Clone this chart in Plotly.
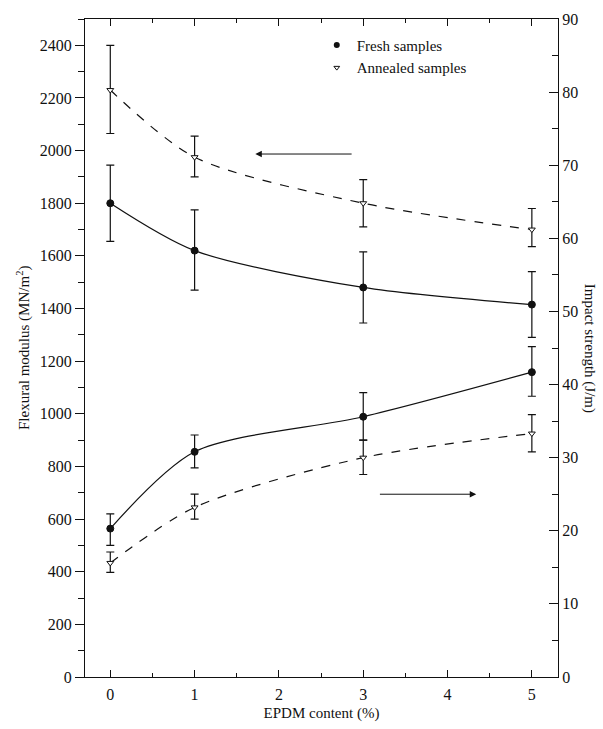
import plotly.graph_objects as go

# EPDM content (%)
epdm = [0, 1, 3, 5]

# Flexural modulus (MN/m^2), left axis
flex_fresh = [1800, 1620, 1480, 1415]
flex_fresh_hi = [145, 155, 135, 125]
flex_fresh_lo = [145, 150, 135, 125]
flex_annealed = [2230, 1975, 1800, 1700]
flex_annealed_hi = [170, 80, 90, 80]
flex_annealed_lo = [165, 75, 90, 65]

# Impact strength (J/m), right axis
imp_fresh = [20.3, 30.8, 35.6, 41.7]
imp_fresh_hi = [2.0, 2.3, 3.3, 3.5]
imp_fresh_lo = [2.3, 2.2, 3.2, 3.3]
imp_annealed = [15.6, 23.2, 30.0, 33.3]
imp_annealed_hi = [1.5, 1.8, 2.4, 2.6]
imp_annealed_lo = [1.3, 1.6, 2.3, 2.5]

FONT = "Liberation Serif"
INK = "#111111"

fig = go.Figure()


def add_series(y, hi, lo, dash, symbol, fill, yaxis):
    fig.add_trace(go.Scatter(
        x=epdm, y=y, mode="lines", yaxis=yaxis, showlegend=False,
        line=dict(color=INK, width=1.2, dash=dash, shape="spline", smoothing=0.8),
    ))
    fig.add_trace(go.Scatter(
        x=epdm, y=y, mode="markers", yaxis=yaxis, showlegend=False,
        marker=dict(symbol=symbol, size=7 if fill else 6, color=INK if fill else "white",
                    line=dict(color=INK, width=1)),
        error_y=dict(type="data", symmetric=False, array=hi, arrayminus=lo,
                     color=INK, thickness=1.2, width=4),
    ))


add_series(flex_fresh, flex_fresh_hi, flex_fresh_lo, "solid", "circle", True, "y")
add_series(flex_annealed, flex_annealed_hi, flex_annealed_lo, "dash", "triangle-down", False, "y")
add_series(imp_fresh, imp_fresh_hi, imp_fresh_lo, "solid", "circle", True, "y2")
add_series(imp_annealed, imp_annealed_hi, imp_annealed_lo, "dash", "triangle-down", False, "y2")

# legend entries
fig.add_trace(go.Scatter(x=[None], y=[None], mode="markers", name="Fresh samples",
                         marker=dict(symbol="circle", size=6, color=INK)))
fig.add_trace(go.Scatter(x=[None], y=[None], mode="markers", name="Annealed samples",
                         marker=dict(symbol="triangle-down", size=5, color="white",
                                     line=dict(color=INK, width=1))))

axis_font = dict(family=FONT, size=16, color=INK)

fig.update_layout(
    width=603, height=729,
    margin=dict(l=85, r=45, t=19, b=52),
    paper_bgcolor="white", plot_bgcolor="white",
    font=dict(family=FONT, color=INK),
    showlegend=True,
    legend=dict(x=0.49, y=0.985, xanchor="left", yanchor="top",
                bgcolor="rgba(0,0,0,0)", font=dict(family=FONT, size=15, color=INK),
                itemwidth=30, tracegroupgap=0),
    xaxis=dict(
        range=[-0.3, 5.31], tickvals=[0, 1, 2, 3, 4, 5], automargin=False,
        ticks="inside", ticklen=7, tickcolor=INK, tickwidth=1,
        minor=dict(dtick=0.5, tick0=0, ticks="inside", ticklen=4, tickcolor=INK),
        showline=True, linecolor=INK, linewidth=1.2, mirror="ticks",
        showgrid=False, zeroline=False, tickfont=axis_font, ticklabelstandoff=3,
        title=dict(text="EPDM content (%)", font=dict(family=FONT, size=15, color=INK),
                   standoff=5),
    ),
    yaxis=dict(
        range=[0, 2500], dtick=200, tick0=0, automargin=False,
        ticks="outside", ticklen=9, tickcolor=INK, tickwidth=1,
        minor=dict(dtick=100, ticks="outside", ticklen=6, tickcolor=INK),
        showline=True, linecolor=INK, linewidth=1.2,
        showgrid=False, zeroline=False, tickfont=axis_font,
    ),
    yaxis2=dict(
        range=[0, 90], dtick=10, tick0=0, overlaying="y", side="right", automargin=False,
        ticks="inside", ticklen=9, tickcolor=INK, tickwidth=1,
        minor=dict(dtick=5, ticks="inside", ticklen=6, tickcolor=INK),
        showline=True, linecolor=INK, linewidth=1.2,
        showgrid=False, zeroline=False, tickfont=axis_font,
    ),
)

# axis titles drawn as rotated text
fig.add_annotation(text="Flexural modulus (MN/m<sup>2</sup>)", xref="paper", yref="paper",
                   x=-0.131, y=0.5, xanchor="center", yanchor="middle", showarrow=False,
                   textangle=-90, font=dict(family=FONT, size=15, color=INK))
fig.add_annotation(text="Impact strength (J/m)", xref="paper", yref="paper",
                   x=1.068, y=0.5, xanchor="center", yanchor="middle", showarrow=False,
                   textangle=90, font=dict(family=FONT, size=15, color=INK))

# arrows pointing to the relevant axis
fig.add_annotation(x=1.72, y=1987, ax=2.88, ay=1987, xref="x", yref="y", axref="x", ayref="y",
                   text="", showarrow=True, arrowhead=2, arrowsize=1.3, arrowwidth=1,
                   arrowcolor=INK)
fig.add_annotation(x=4.34, y=25.0, ax=3.18, ay=25.0, xref="x", yref="y2", axref="x", ayref="y2",
                   text="", showarrow=True, arrowhead=2, arrowsize=1.3, arrowwidth=1,
                   arrowcolor=INK)

fig.write_html("out.html")
